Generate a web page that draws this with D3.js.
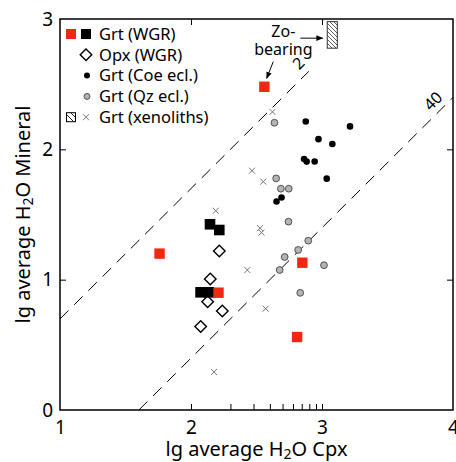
<!DOCTYPE html>
<html>
<head>
<meta charset="utf-8">
<script src="https://cdn.jsdelivr.net/npm/d3@7"></script>
<style>
  body { margin: 0; background: #fff; }
  text { font-family: "Noto Sans", sans-serif; fill: #000; }
</style>
</head>
<body>
<div id="chart"></div>
<script>
// data: [lg H2O Cpx, lg H2O mineral]
const grtWgrRed = [[2.56, 2.48], [1.76, 1.20], [2.21, 0.90], [2.85, 1.13], [2.81, 0.56]];
const grtWgrBlack = [[2.145, 1.425], [2.216, 1.381], [2.073, 0.903], [2.137, 0.903]];
const opxWgr = [[2.216, 1.22], [2.147, 1.005], [2.127, 0.831], [2.239, 0.76], [2.074, 0.64]];
const grtCoe = [[2.876, 2.213], [3.214, 2.176], [2.973, 2.078], [3.079, 2.041], [2.863, 1.926],
                [2.883, 1.906], [2.944, 1.907], [3.036, 1.775], [2.691, 1.631], [2.653, 1.60]];
const grtQz = [[2.637, 2.204], [2.65, 1.777], [2.686, 1.698], [2.746, 1.698], [2.744, 1.445],
               [2.895, 1.299], [2.818, 1.228], [2.715, 1.174], [2.677, 1.074], [3.015, 1.111], [2.834, 0.899]];
const grtXeno = [[2.622, 2.287], [2.466, 1.836], [2.552, 1.752], [2.189, 1.529], [2.527, 1.395],
                 [2.538, 1.361], [2.43, 1.074], [2.57, 0.777], [2.176, 0.292]];
// Zo-bearing range box
const zoBox = {x0: 3.04, x1: 3.117, y0: 2.776, y1: 2.98};
// partition lines: lg mineral = lg cpx - lg(D)
const ratioLines = [{d: 2, from: 1, to: 2.9, lx: 2.82, ly: 2.66}, {d: 40, from: 1.602, to: 4, lx: 3.847, ly: 2.37}];
const xTicks = [1, 2, 3, 4];
const yTicks = [0, 1, 2, 3];
const xMinor = d3.range(1, 11).map(k => 2 + Math.log10(k));

const width = 456, height = 462;
const red = "#f0280f";

const x = d3.scaleLinear().domain([1, 4]).range([60, 453]);
const y = d3.scaleLinear().domain([0, 3]).range([410, 19]);

const svg = d3.select("#chart").append("svg")
    .attr("width", width)
    .attr("height", height);

const defs = svg.append("defs");
defs.append("pattern")
    .attr("id", "hatch")
    .attr("patternUnits", "userSpaceOnUse")
    .attr("width", 4).attr("height", 4)
    .append("path")
    .attr("d", "M-1,-1 L5,5 M3,-1 L5,1 M-1,3 L1,5")
    .attr("stroke", "#333").attr("stroke-width", 0.8);
defs.append("pattern")
    .attr("id", "hatchSmall")
    .attr("patternUnits", "userSpaceOnUse")
    .attr("width", 6).attr("height", 6)
    .append("path")
    .attr("d", "M-1,-1 L7,7 M5,-1 L7,1 M-1,5 L1,7")
    .attr("stroke", "#222").attr("stroke-width", 1);
defs.append("marker")
    .attr("id", "arrow")
    .attr("viewBox", "0 0 10 10")
    .attr("refX", 9).attr("refY", 5)
    .attr("markerWidth", 7).attr("markerHeight", 7)
    .attr("orient", "auto")
    .append("path")
    .attr("d", "M0,1 L10,5 L0,9 Z")
    .attr("fill", "#000");

// axes (ticks inside the frame)
svg.append("g")
    .attr("transform", `translate(0,${y(0)})`)
    .call(d3.axisBottom(x).tickValues(xTicks).tickSize(0).tickPadding(11).tickFormat(d3.format("d")))
    .call(g => g.select(".domain").remove())
    .call(g => g.selectAll("text").style("font-size", "19px").attr("font-family", null));
svg.append("g")
    .attr("transform", `translate(0,${y(0)})`)
    .call(d3.axisBottom(x).tickValues(xMinor).tickSize(-6).tickFormat(""))
    .call(g => g.select(".domain").remove());
svg.append("g")
    .attr("transform", `translate(0,${y(3)})`)
    .call(d3.axisTop(x).tickValues([2, 3]).tickSize(-6).tickFormat(""))
    .call(g => g.select(".domain").remove());
svg.append("g")
    .attr("transform", `translate(${x(1)},0)`)
    .call(d3.axisLeft(y).tickValues(yTicks).tickSize(0).tickPadding(7).tickFormat(d3.format("d")))
    .call(g => g.select(".domain").remove())
    .call(g => g.selectAll("text").style("font-size", "19px").attr("font-family", null));
svg.append("g")
    .attr("transform", `translate(${x(1)},0)`)
    .call(d3.axisLeft(y).tickValues([1, 2]).tickSize(-6).tickFormat(""))
    .call(g => g.select(".domain").remove());
svg.append("g")
    .attr("transform", `translate(${x(4)},0)`)
    .call(d3.axisRight(y).tickValues([1, 2]).tickSize(-6).tickFormat(""))
    .call(g => g.select(".domain").remove());

svg.selectAll(".tick line").attr("stroke", "#000").attr("stroke-width", 1);

// frame
svg.append("rect")
    .attr("x", x(1)).attr("y", y(3))
    .attr("width", x(4) - x(1)).attr("height", y(0) - y(3))
    .attr("fill", "none").attr("stroke", "#000").attr("stroke-width", 1.5);

// axis titles
const xt = svg.append("text")
    .attr("x", (x(1) + x(4)) / 2).attr("y", 456)
    .attr("text-anchor", "middle")
    .style("font-size", "20px");
xt.append("tspan").text("lg average H");
xt.append("tspan").attr("dy", 3).style("font-size", "14px").text("2");
xt.append("tspan").attr("dy", -3).text("O Cpx");

const yt = svg.append("text")
    .attr("transform", `translate(30,${(y(0) + y(3)) / 2}) rotate(-90)`)
    .attr("text-anchor", "middle")
    .style("font-size", "20px");
yt.append("tspan").text("lg average H");
yt.append("tspan").attr("dy", 3).style("font-size", "14px").text("2");
yt.append("tspan").attr("dy", -3).text("O Mineral");

// ratio lines
svg.append("g").selectAll("line")
    .data(ratioLines)
    .join("line")
    .attr("x1", d => x(d.from)).attr("y1", d => y(d.from - Math.log10(d.d)))
    .attr("x2", d => x(d.to)).attr("y2", d => y(d.to - Math.log10(d.d)))
    .attr("stroke", "#000").attr("stroke-width", 1)
    .attr("stroke-dasharray", "12,8");
svg.append("g").selectAll("text")
    .data(ratioLines)
    .join("text")
    .attr("transform", d => `translate(${x(d.lx)},${y(d.ly)}) rotate(-45)`)
    .attr("text-anchor", "middle")
    .attr("dy", "0.35em")
    .style("font-size", "16px")
    .text(d => d.d);

// Zo-bearing box and note
svg.append("rect")
    .attr("x", x(zoBox.x0)).attr("y", y(zoBox.y1))
    .attr("width", x(zoBox.x1) - x(zoBox.x0)).attr("height", y(zoBox.y0) - y(zoBox.y1))
    .attr("fill", "url(#hatch)").attr("stroke", "#333").attr("stroke-width", 1);
svg.append("text").attr("x", x(2.705)).attr("y", y(2.86))
    .attr("text-anchor", "middle").style("font-size", "16px").text("Zo-");
svg.append("text").attr("x", x(2.705)).attr("y", y(2.724))
    .attr("text-anchor", "middle").style("font-size", "16px").text("bearing");
const arrows = [[2.835, 2.853, 3.005, 2.853], [2.628, 2.673, 2.578, 2.545]];
svg.append("g").selectAll("line")
    .data(arrows)
    .join("line")
    .attr("x1", d => x(d[0])).attr("y1", d => y(d[1]))
    .attr("x2", d => x(d[2])).attr("y2", d => y(d[3]))
    .attr("stroke", "#000").attr("stroke-width", 1)
    .attr("marker-end", "url(#arrow)");

// points
const pts = svg.append("g");
pts.selectAll(".xeno").data(grtXeno).join("path")
    .attr("class", "xeno")
    .attr("d", d => `M${x(d[0]) - 3},${y(d[1]) - 3}L${x(d[0]) + 3},${y(d[1]) + 3}M${x(d[0]) - 3},${y(d[1]) + 3}L${x(d[0]) + 3},${y(d[1]) - 3}`)
    .attr("stroke", "#777").attr("stroke-width", 1);
pts.selectAll(".qz").data(grtQz).join("circle")
    .attr("class", "qz")
    .attr("cx", d => x(d[0])).attr("cy", d => y(d[1])).attr("r", 3.4)
    .attr("fill", "#b4b4b4").attr("stroke", "#444").attr("stroke-width", 0.9);
pts.selectAll(".coe").data(grtCoe).join("circle")
    .attr("class", "coe")
    .attr("cx", d => x(d[0])).attr("cy", d => y(d[1])).attr("r", 3.3)
    .attr("fill", "#000");
pts.selectAll(".opx").data(opxWgr).join("path")
    .attr("class", "opx")
    .attr("d", d3.symbol(d3.symbolDiamond2, 85))
    .attr("transform", d => `translate(${x(d[0])},${y(d[1])})`)
    .attr("fill", "#fff").attr("stroke", "#000").attr("stroke-width", 1.4);
pts.selectAll(".grtb").data(grtWgrBlack).join("rect")
    .attr("class", "grtb")
    .attr("x", d => x(d[0]) - 5.3).attr("y", d => y(d[1]) - 5.3)
    .attr("width", 10.6).attr("height", 10.6)
    .attr("fill", "#000");
pts.selectAll(".grtr").data(grtWgrRed).join("rect")
    .attr("class", "grtr")
    .attr("x", d => x(d[0]) - 5.2).attr("y", d => y(d[1]) - 5.2)
    .attr("width", 10.4).attr("height", 10.4)
    .attr("fill", red);

// legend
const legendRows = ["Grt (WGR)", "Opx (WGR)", "Grt (Coe ecl.)", "Grt (Qz ecl.)", "Grt (xenoliths)"];
const lg = svg.append("g");
const rowY = i => 34 + i * 20.8;
lg.selectAll("text").data(legendRows).join("text")
    .attr("x", 99).attr("y", (d, i) => rowY(i))
    .attr("dy", "0.35em")
    .style("font-size", "16.5px")
    .text(d => d);
lg.append("rect").attr("x", 66).attr("y", rowY(0) - 5).attr("width", 10).attr("height", 10).attr("fill", red);
lg.append("rect").attr("x", 81).attr("y", rowY(0) - 5).attr("width", 10).attr("height", 10).attr("fill", "#000");
lg.append("path").attr("d", d3.symbol(d3.symbolDiamond2, 85))
    .attr("transform", `translate(86,${rowY(1)})`)
    .attr("fill", "#fff").attr("stroke", "#000").attr("stroke-width", 1.4);
lg.append("circle").attr("cx", 87).attr("cy", rowY(2)).attr("r", 3).attr("fill", "#000");
lg.append("circle").attr("cx", 87).attr("cy", rowY(3)).attr("r", 3)
    .attr("fill", "#b4b4b4").attr("stroke", "#444").attr("stroke-width", 0.9);
lg.append("rect").attr("x", 66.5).attr("y", rowY(4) - 4.5).attr("width", 9).attr("height", 9)
    .attr("fill", "url(#hatchSmall)").attr("stroke", "#000").attr("stroke-width", 1);
lg.append("path")
    .attr("d", `M83,${rowY(4) - 3}L89,${rowY(4) + 3}M83,${rowY(4) + 3}L89,${rowY(4) - 3}`)
    .attr("stroke", "#777").attr("stroke-width", 1);
</script>
</body>
</html>
